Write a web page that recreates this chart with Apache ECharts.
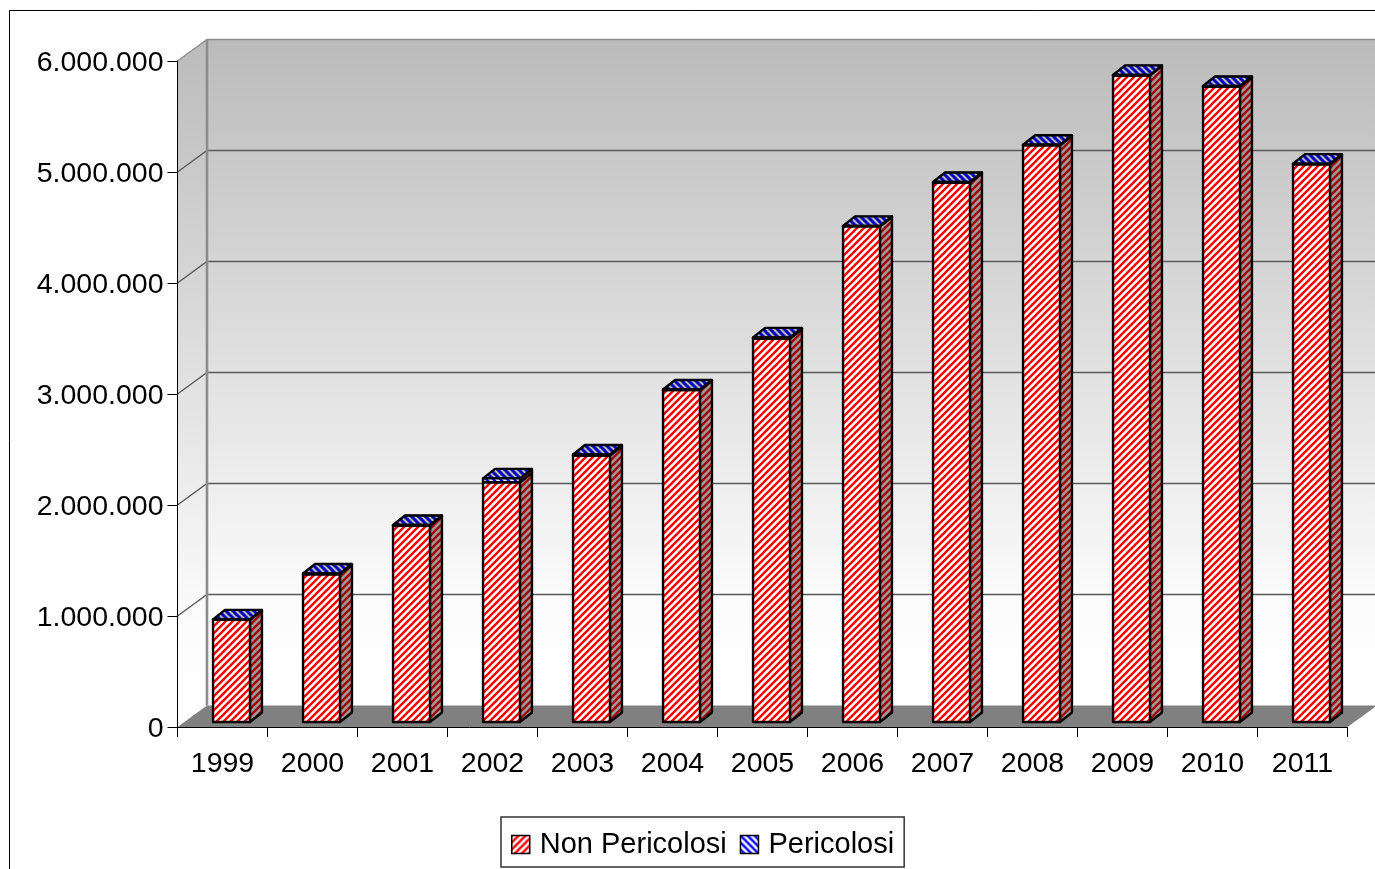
<!DOCTYPE html>
<html>
<head>
<meta charset="utf-8">
<style>html,body{margin:0;padding:0;background:#fff;overflow:hidden}#chart{width:1375px;height:869px}</style>
<script src="https://cdn.jsdelivr.net/npm/echarts@6/dist/echarts.min.js"></script>
</head>
<body>
<div id="chart"></div>
<script>
// Tonnes per year, stacked
var years = ['1999','2000','2001','2002','2003','2004','2005','2006','2007','2008','2009','2010','2011'];
var nonPericolosi = [920000,1330000,1770000,2160000,2400000,2990000,3455000,4465000,4860000,5195000,5825000,5725000,5025000];
var pericolosi = [5000,8000,5000,35000,10000,5000,10000,5000,5000,5000,5000,5000,5000];
var yTicks = [0,1000000,2000000,3000000,4000000,5000000,6000000];

// Oblique projection of the 3D look, in pixels
var WALL_DX = 29.5, WALL_DY = -21.5;   // depth of the whole plot box
var BAR_DX = 12, BAR_DY = -9.5;        // depth of one column
var BAR_INSET_DX = 9, BAR_INSET_DY = -5; // front of a column relative to the front of the box
var BAR_RATIO = 0.41;

function stripes(bg, fg, rising, weight) {
  var size = 7, c = document.createElement('canvas');
  c.width = c.height = size;
  var g = c.getContext('2d');
  g.fillStyle = bg; g.fillRect(0, 0, size, size);
  g.strokeStyle = fg; g.lineWidth = weight;
  for (var i = -size; i <= size * 2; i += size) {
    g.beginPath();
    if (rising) { g.moveTo(i - 1, size + 1); g.lineTo(i + size + 1, -1); }
    else { g.moveTo(i - 1, -1); g.lineTo(i + size + 1, size + 1); }
    g.stroke();
  }
  return { image: c, repeat: 'repeat' };
}
var redFront = stripes('#ffffff', '#ff0000', true, 2.4);
var redSide  = stripes('#a09a9a', '#a00808', true, 2.4);
var blueFront = stripes('#ffffff', '#0000ff', false, 2.4);
var blueTop  = stripes('#b8b8b8', '#0000c0', false, 3);

var EDGE = { stroke: '#000', lineWidth: 2.4, lineJoin: 'round' };

function face(points, fill) {
  return { type: 'polygon', shape: { points: points }, style: Object.assign({ fill: fill }, EDGE) };
}

// One segment of a stacked column: front, side and lid
function column(api, lowFn, highFn, front, side, top) {
  var i = api.value(0);
  var low = api.coord([i, lowFn(i)]);
  var high = api.coord([i, highFn(i)]);
  var w = api.size([1, 0])[0] * BAR_RATIO;
  var x0 = low[0] - w / 2 + BAR_INSET_DX, x1 = x0 + w;
  var y0 = low[1] + BAR_INSET_DY, y1 = high[1] + BAR_INSET_DY;
  return {
    type: 'group',
    children: [
      face([[x1, y0], [x1 + BAR_DX, y0 + BAR_DY], [x1 + BAR_DX, y1 + BAR_DY], [x1, y1]], side),
      face([[x0, y1], [x1, y1], [x1 + BAR_DX, y1 + BAR_DY], [x0 + BAR_DX, y1 + BAR_DY]], top),
      face([[x0, y0], [x1, y0], [x1, y1], [x0, y1]], front)
    ]
  };
}

// Back wall, side wall, floor and wall gridlines
function renderBox(params, api) {
  var band = api.size([1, 0])[0];
  var left = api.coord([0, 0])[0] - band / 2;
  var right = left + band * years.length;
  var bottom = api.coord([0, 0])[1];
  var top = api.coord([0, yTicks[yTicks.length - 1]])[1];
  var wallGrad = { type: 'linear', x: 0, y: 0, x2: 0, y2: 1, colorStops: [
    { offset: 0, color: '#bbbbbb' }, { offset: 0.85, color: '#fcfcfc' }, { offset: 1, color: '#ffffff' }
  ] };
  var kids = [
    { type: 'polygon', shape: { points: [[left, top], [left + WALL_DX, top + WALL_DY], [left + WALL_DX, bottom + WALL_DY], [left, bottom]] },
      style: { fill: wallGrad } },
    { type: 'rect', shape: { x: left + WALL_DX, y: top + WALL_DY, width: right - left, height: bottom - top },
      style: { fill: wallGrad } },
    { type: 'polygon', shape: { points: [[left, bottom], [left + WALL_DX, bottom + WALL_DY], [right + WALL_DX, bottom + WALL_DY], [right, bottom]] },
      style: { fill: '#808080' } }
  ];
  yTicks.forEach(function (t) {
    if (t === 0) return;
    var y = api.coord([0, t])[1];
    var isTop = t === yTicks[yTicks.length - 1];
    kids.push({ type: 'polyline', shape: { points: [[left, y], [left + WALL_DX, y + WALL_DY], [right + WALL_DX, y + WALL_DY]] },
      style: { stroke: isTop ? '#909090' : '#5a5a5a', lineWidth: isTop ? 1.5 : 1.4, fill: null } });
  });
  kids.push({ type: 'line', shape: { x1: left + WALL_DX, y1: bottom + WALL_DY, x2: left + WALL_DX, y2: top + WALL_DY },
    style: { stroke: '#8c8c8c', lineWidth: 2.6 } });
  return { type: 'group', children: kids };
}

var indices = years.map(function (y, i) { return [i]; });

var chart = echarts.init(document.getElementById('chart'), null, { renderer: 'canvas' });
chart.setOption({
  animation: false,
  backgroundColor: '#ffffff',
  textStyle: { fontFamily: 'Liberation Sans' },
  graphic: [{
    type: 'rect', silent: true, z: 0,
    shape: { x: 9.5, y: 10.5, width: 1500, height: 1000 },
    style: { fill: null, stroke: '#000', lineWidth: 1 }
  }],
  grid: { left: 177.5, top: 61, width: 1170, height: 666, containLabel: false },
  xAxis: {
    type: 'category', data: years, z: 2,
    axisLine: { lineStyle: { color: '#000', width: 1 } },
    axisTick: { show: true, alignWithLabel: false, length: 10, lineStyle: { color: '#000', width: 1 } },
    axisLabel: { show: true, interval: 0, color: '#000', fontSize: 28.5, margin: 23, fontFamily: 'Liberation Sans' },
    splitLine: { show: false }
  },
  yAxis: {
    type: 'value', min: 0, max: 6000000, interval: 1000000, z: 2,
    axisLine: { show: true, lineStyle: { color: '#000', width: 1 } },
    axisTick: { show: true, length: 10, lineStyle: { color: '#000', width: 1 } },
    axisLabel: {
      color: '#000', fontSize: 28.5, margin: 14, fontFamily: 'Liberation Sans', verticalAlign: 'top', lineHeight: 5,
      formatter: function (v) { return String(v).replace(/\B(?=(\d{3})+$)/g, '.'); }
    },
    splitLine: { show: false }
  },
  legend: {
    left: 501, top: 817, orient: 'horizontal',
    data: [
      { name: 'Non Pericolosi', icon: 'rect', itemStyle: { color: redFront, borderColor: '#000', borderWidth: 1.5 } },
      { name: 'Pericolosi', icon: 'rect', itemStyle: { color: blueFront, borderColor: '#000', borderWidth: 1.5 } }
    ],
    itemWidth: 18, itemHeight: 18, itemGap: 13,
    padding: [13, 10, 8, 10],
    backgroundColor: '#fff', borderColor: '#333', borderWidth: 1.5, borderRadius: 0,
    selectedMode: false,
    textStyle: { color: '#000', fontSize: 29, fontFamily: 'Liberation Sans', padding: [0, 0, 0, 5] }
  },
  series: [
    { type: 'custom', name: 'box', silent: true, z: 1, data: [[0]], renderItem: renderBox },
    { type: 'custom', name: 'Non Pericolosi', silent: true, z: 3, data: indices,
      itemStyle: { color: redFront },
      renderItem: function (p, api) {
        return column(api, function () { return 0; }, function (i) { return nonPericolosi[i]; }, redFront, redSide, blueTop);
      } },
    { type: 'custom', name: 'Pericolosi', silent: true, z: 4, data: indices,
      itemStyle: { color: blueFront },
      renderItem: function (p, api) {
        return column(api, function (i) { return nonPericolosi[i]; }, function (i) { return nonPericolosi[i] + pericolosi[i]; }, blueFront, redSide, blueTop);
      } }
  ]
});
</script>
</body>
</html>
